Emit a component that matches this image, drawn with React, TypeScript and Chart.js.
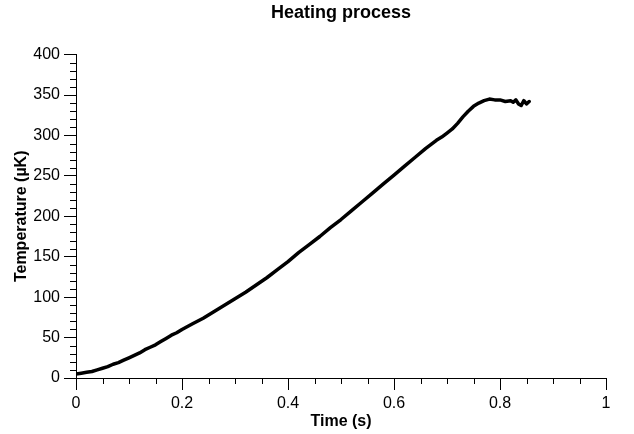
import React, { useEffect, useRef } from "react";
import { Chart, registerables } from "chart.js";

Chart.register(...registerables);

const chartTitle = "Heating process";
const xAxisTitle = "Time (s)";
const yAxisTitle = "Temperature (µK)";

const timeValues = [
  0.0, 0.01, 0.02, 0.03, 0.04, 0.05, 0.06, 0.07, 0.08, 0.09, 0.1, 0.11, 0.12,
  0.13, 0.14, 0.15, 0.16, 0.17, 0.18, 0.19, 0.2, 0.22, 0.24, 0.26, 0.28, 0.3,
  0.32, 0.34, 0.36, 0.38, 0.4, 0.42, 0.44, 0.46, 0.48, 0.5, 0.52, 0.54, 0.56,
  0.58, 0.6, 0.62, 0.64, 0.66, 0.68, 0.69, 0.7, 0.71, 0.72, 0.73, 0.74, 0.75,
  0.76, 0.77, 0.78, 0.79, 0.8, 0.81, 0.82, 0.825, 0.83, 0.835, 0.84, 0.845,
  0.85, 0.855,
];
const temperatureValues = [
  5, 6, 7, 8, 10, 12, 14, 17, 19, 22, 25, 28, 31, 35, 38, 41, 45, 49, 53, 56,
  60, 67, 74, 82, 90, 98, 106, 115, 124, 134, 144, 155, 165, 175, 186, 196,
  207, 218, 229, 240, 251, 262, 273, 284, 294, 298, 303, 308, 315, 323, 330,
  336, 340, 343, 345, 344, 344, 342, 343, 341, 344, 339, 337, 343, 339, 342,
];

const xMin = 0;
const xMax = 1;
const xMajorStep = 0.2;
const xMinorStep = 0.05;
const yMin = 0;
const yMax = 400;
const yMajorStep = 50;
const yMinorStep = 10;

const FONT = "'Liberation Sans', Arial, Helvetica, sans-serif";

const minorTicksPlugin = {
  id: "minorTicks",
  afterDraw(chart: any) {
    const { ctx, chartArea } = chart;
    const xs = chart.scales.x;
    const ys = chart.scales.y;
    ctx.save();
    ctx.strokeStyle = "#000";
    ctx.lineWidth = 1;
    ctx.beginPath();
    const nx = Math.round((xMax - xMin) / xMinorStep);
    for (let i = 0; i <= nx; i++) {
      const v = xMin + i * xMinorStep;
      const r = v / xMajorStep;
      if (Math.abs(r - Math.round(r)) < 1e-6) continue;
      const px = Math.round(xs.getPixelForValue(v)) + 0.5;
      ctx.moveTo(px, chartArea.bottom);
      ctx.lineTo(px, chartArea.bottom + 6);
    }
    const ny = Math.round((yMax - yMin) / yMinorStep);
    for (let i = 0; i <= ny; i++) {
      const v = yMin + i * yMinorStep;
      if (v % yMajorStep === 0) continue;
      const py = Math.round(ys.getPixelForValue(v)) + 0.5;
      ctx.moveTo(chartArea.left - 6, py);
      ctx.lineTo(chartArea.left, py);
    }
    ctx.stroke();
    ctx.restore();
  },
};

export default function App() {
  const canvasRef = useRef<HTMLCanvasElement | null>(null);

  useEffect(() => {
    if (!canvasRef.current) return;
    const data = timeValues.map((t, i) => ({ x: t, y: temperatureValues[i] }));
    const chart = new Chart(canvasRef.current, {
      type: "line",
      data: {
        datasets: [
          {
            data,
            borderColor: "#000",
            borderWidth: 3.5,
            pointRadius: 0,
            tension: 0,
            borderJoinStyle: "round",
            borderCapStyle: "round",
            fill: false,
          },
        ],
      },
      options: {
        responsive: false,
        animation: false,
        events: [],
        layout: { padding: { left: 0, right: 28, top: 0, bottom: 0 } },
        plugins: {
          legend: { display: false },
          tooltip: { enabled: false },
          title: {
            display: true,
            text: chartTitle,
            fullSize: false,
            color: "#000",
            font: { family: FONT, size: 18, weight: "bold" },
            padding: { top: 2, bottom: 31 },
          },
        },
        scales: {
          x: {
            type: "linear",
            min: xMin,
            max: xMax,
            afterFit(scale: any) {
              scale.height = 56;
            },
            ticks: {
              stepSize: xMajorStep,
              color: "#000",
              padding: 4,
              maxRotation: 0,
              font: { family: FONT, size: 16 },
              callback: (v: any) => String(Number(Number(v).toFixed(2))),
            },
            grid: {
              drawOnChartArea: false,
              drawTicks: true,
              tickLength: 12,
              tickColor: "#000",
              tickWidth: 1,
            },
            border: { display: true, color: "#000", width: 1 },
            title: {
              display: true,
              text: xAxisTitle,
              color: "#000",
              font: { family: FONT, size: 16, weight: "bold" },
              padding: { top: 0, bottom: 3 },
            },
          },
          y: {
            type: "linear",
            min: yMin,
            max: yMax,
            afterFit(scale: any) {
              scale.width = 76;
            },
            ticks: {
              stepSize: yMajorStep,
              color: "#000",
              padding: 4,
              font: { family: FONT, size: 16 },
            },
            grid: {
              drawOnChartArea: false,
              drawTicks: true,
              tickLength: 12,
              tickColor: "#000",
              tickWidth: 1,
            },
            border: { display: true, color: "#000", width: 1 },
            title: {
              display: true,
              text: yAxisTitle,
              color: "#000",
              font: { family: FONT, size: 16, weight: "bold" },
              padding: { top: 12, bottom: 0 },
            },
          },
        },
      },
      plugins: [minorTicksPlugin],
    });
    return () => chart.destroy();
  }, []);

  return (
    <div style={{ position: "absolute", left: 0, top: 0, width: 634, height: 434, background: "#fff" }}>
      <canvas ref={canvasRef} width={634} height={434} style={{ display: "block" }} />
    </div>
  );
}
